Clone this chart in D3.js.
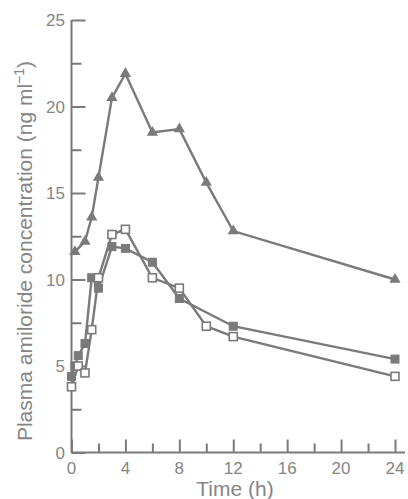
<!DOCTYPE html>
<html>
<head>
<meta charset="utf-8">
<script src="https://cdn.jsdelivr.net/npm/d3@7"></script>
<style>
  body { margin: 0; background: #fff; }
  svg text { font-family: "Liberation Sans", Arial, sans-serif; fill: #858585; }
</style>
</head>
<body>
<svg width="408" height="499"></svg>
<script>
// time points (h) and plasma concentrations (ng/ml)
var triTimes = [0.25, 1, 1.5, 2, 3, 4, 6, 8, 10, 12, 24];
var triValues = [11.6, 12.2, 13.6, 15.9, 20.5, 21.9, 18.5, 18.7, 15.6, 12.8, 10.0];

var filledTimes = [0, 0.25, 0.5, 1, 1.5, 2, 3, 4, 6, 8, 12, 24];
var filledValues = [4.4, 5.0, 5.6, 6.3, 10.1, 9.5, 11.9, 11.8, 11.0, 8.9, 7.3, 5.4];

var openTimes = [0, 0.5, 1, 1.5, 2, 3, 4, 6, 8, 10, 12, 24];
var openValues = [3.8, 5.0, 4.6, 7.1, 10.1, 12.6, 12.9, 10.1, 9.5, 7.3, 6.7, 4.4];

var xTicks = [0, 4, 8, 12, 16, 20, 24];
var yTicks = [0, 5, 10, 15, 20, 25];

var svg = d3.select("svg"),
    grey = "#7a7a7a";

var x = d3.scaleLinear().domain([0, 24]).range([71.5, 395]);
var y = d3.scaleLinear().domain([0, 25]).range([452.5, 20]);

function zip(ts, vs) { return ts.map(function(t, i) { return [t, vs[i]]; }); }

// y axis: ticks point inwards, minor ticks at the halves
var gy = svg.append("g").attr("transform", "translate(" + x(0) + ",0)");
gy.call(d3.axisRight(y).tickValues(d3.range(0, 25.1, 2.5)).tickSize(10).tickFormat(""));
gy.selectAll(".tick line").filter(function(d) { return d % 5 === 0; }).attr("x2", 14);
gy.select(".domain").attr("d", "M0," + y(25) + "V" + y(0));
gy.selectAll("line, path").attr("stroke", grey).attr("stroke-width", 2);

svg.append("g").selectAll("text")
  .data(yTicks)
  .enter().append("text")
    .attr("x", 65)
    .attr("y", function(d) { return y(d); })
    .attr("dy", "0.36em")
    .attr("text-anchor", "end")
    .attr("font-size", 17)
    .text(function(d) { return d; });

// x axis
var gx = svg.append("g").attr("transform", "translate(0," + y(0) + ")");
gx.call(d3.axisTop(x).tickValues(d3.range(0, 24.1, 2)).tickSize(9).tickFormat(""));
gx.selectAll(".tick line").filter(function(d) { return d % 4 === 0; }).attr("y2", -13);
gx.select(".domain").attr("d", "M" + x(0) + ",0H405");
gx.selectAll("line, path").attr("stroke", grey).attr("stroke-width", 2);

svg.append("g").selectAll("text")
  .data(xTicks)
  .enter().append("text")
    .attr("x", function(d) { return x(d); })
    .attr("y", 474)
    .attr("text-anchor", "middle")
    .attr("font-size", 17)
    .text(function(d) { return d; });

svg.append("text")
    .attr("x", 235)
    .attr("y", 496)
    .attr("text-anchor", "middle")
    .attr("font-size", 21)
    .text("Time (h)");

var yt = svg.append("text")
    .attr("transform", "translate(32,251) rotate(-90)")
    .attr("text-anchor", "middle")
    .attr("font-size", 21);
yt.append("tspan").text("Plasma amiloride concentration (ng ml");
yt.append("tspan").attr("font-size", 14).attr("dy", -8).text("\u22121");
yt.append("tspan").attr("dy", 8).text(")");

// lines
var line = d3.line()
    .x(function(d) { return x(d[0]); })
    .y(function(d) { return y(d[1]); });

var series = [
  { data: zip(triTimes, triValues), mark: "tri" },
  { data: zip(filledTimes, filledValues), mark: "filled" },
  { data: zip(openTimes, openValues), mark: "open" }
];

series.forEach(function(s) {
  svg.append("path")
      .datum(s.data)
      .attr("fill", "none")
      .attr("stroke", grey)
      .attr("stroke-width", 2.4)
      .attr("d", line);
});

series.forEach(function(s) {
  var g = svg.append("g");
  if (s.mark === "tri") {
    g.selectAll("path")
      .data(s.data)
      .enter().append("path")
        .attr("transform", function(d) { return "translate(" + x(d[0]) + "," + y(d[1]) + ")"; })
        .attr("d", d3.symbol().type(d3.symbolTriangle).size(55))
        .attr("fill", grey);
  } else {
    var filled = s.mark === "filled";
    g.selectAll("rect")
      .data(s.data)
      .enter().append("rect")
        .attr("x", function(d) { return x(d[0]) - 4; })
        .attr("y", function(d) { return y(d[1]) - 4; })
        .attr("width", 8)
        .attr("height", 8)
        .attr("fill", filled ? grey : "#fff")
        .attr("stroke", grey)
        .attr("stroke-width", filled ? 1 : 1.6);
  }
});
</script>
</body>
</html>
